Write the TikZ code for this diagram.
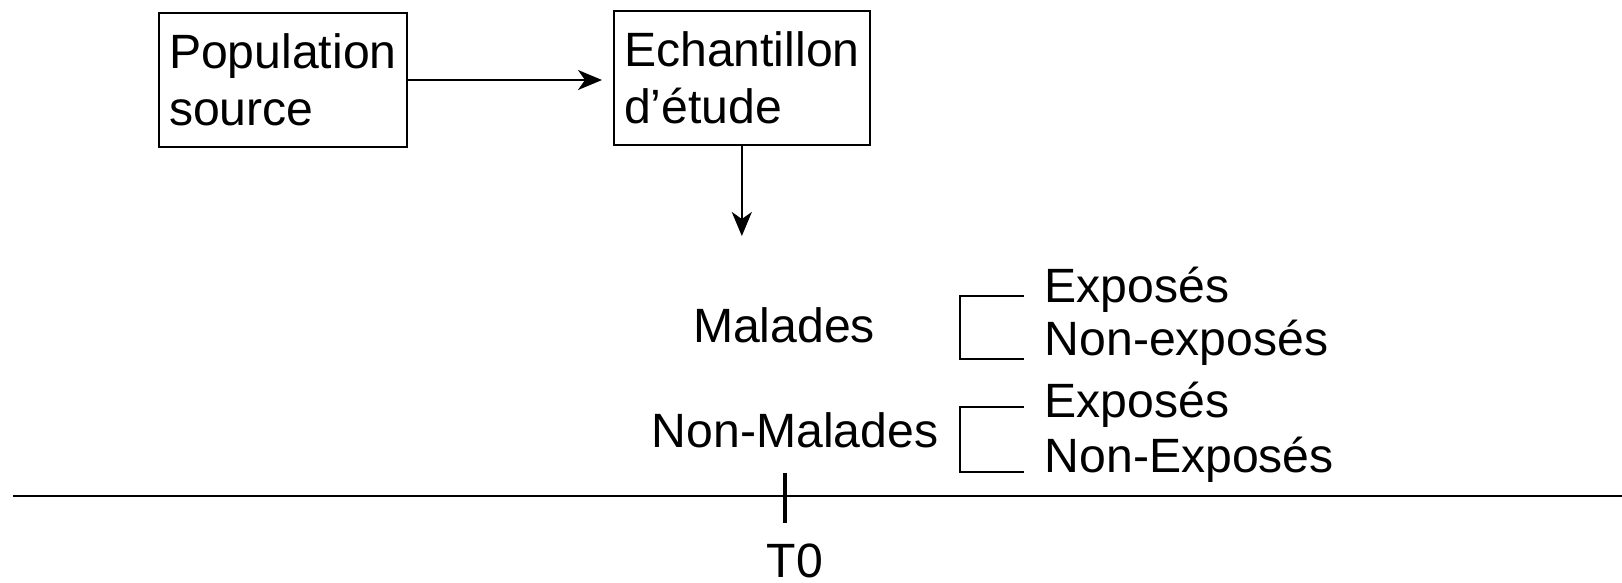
\documentclass[tikz,border=0pt]{standalone}
\usepackage{fontspec}
\setmainfont{Liberation Sans}
\usepackage{tikz}
\usetikzlibrary{arrows.meta, positioning}

\begin{document}
\begin{tikzpicture}[
	every node/.style={font=\fontsize{13.7}{16.3}\selectfont},
	boite/.style={draw, line width=0.6pt, align=left, inner xsep=0.10cm, minimum height=1.34cm},
	fleche/.style={-{Stealth[length=0.24cm, width=0.2cm, inset=0.07cm]}, line width=0.6pt},
	trait/.style={line width=0.6pt},
	etiq/.style={inner sep=0pt, anchor=base west}
	]
	
	\useasboundingbox (0,0) rectangle (16.22,-5.82);
	
	% Boites
	\node[boite, anchor=west] (pop) at (1.58,-0.80) {Population\\source};
	\node[boite, anchor=west] (ech) at (6.13,-0.78) {Echantillon\\d’étude};
	
	% Fleches
	\draw[fleche, shorten >=0.11cm] (pop.east) -- (pop.east -| ech.west);
	\coordinate (bas) at (7.41,-2.36);
	\draw[fleche] (ech.south) -- (ech.south |- bas);
	
	% Groupes
	\node[inner sep=0pt, anchor=base] (mal) at (7.84,-3.42) {Malades};
	\node[inner sep=0pt, anchor=base] (nmal) at (7.95,-4.47) {Non-Malades};
	
	\node[etiq] (exp1) at (10.44,-3.02) {Exposés};
	\node[etiq] (nexp1) at (10.44,-3.55) {Non-exposés};
	\node[etiq] (exp2) at (10.44,-4.17) {Exposés};
	\node[etiq] (nexp2) at (10.44,-4.72) {Non-Exposés};
	
	% Accolades
	\draw[trait] ([xshift=-0.20cm,yshift=0.06cm]exp1.base west) -- ++(-0.64,0)
	|- ([xshift=-0.20cm,yshift=-0.04cm]nexp1.base west);
	\draw[trait] ([xshift=-0.20cm,yshift=0.10cm]exp2.base west) -- ++(-0.64,0)
	|- ([xshift=-0.20cm]nexp2.base west);
	
	% Axe du temps
	\coordinate (debut) at (0.13,-4.96);
	\coordinate (fin) at (16.22,-4.96);
	\coordinate (t0) at (7.85,-4.96);
	\draw[line width=0.8pt] (debut) -- (fin);
	\draw[line width=1.2pt] ([yshift=0.23cm]t0) -- ([yshift=-0.27cm]t0);
	\node[inner sep=0pt, anchor=base] (lt0) at (7.95,-5.77) {T0};
	
\end{tikzpicture}
\end{document}
